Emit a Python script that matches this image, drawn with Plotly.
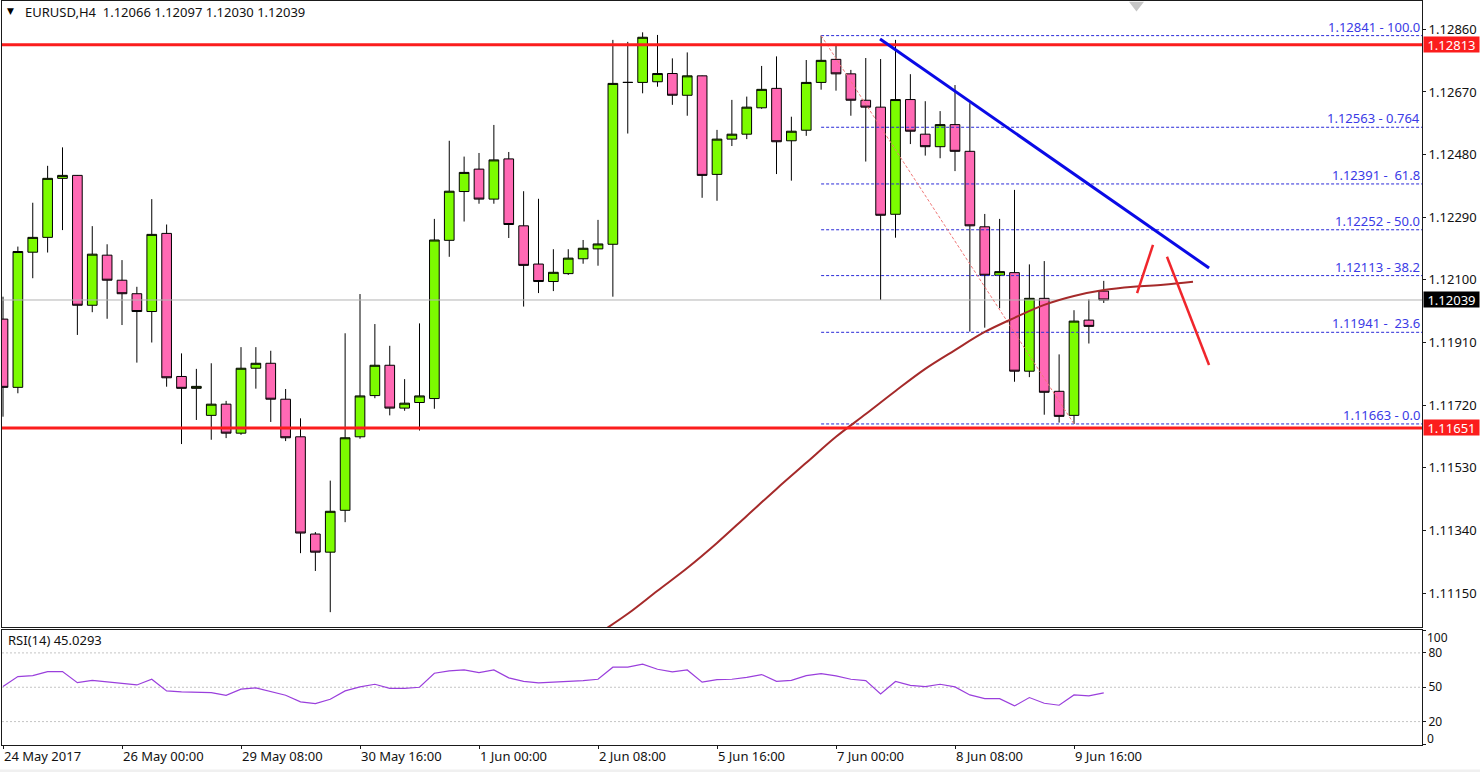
import plotly.graph_objects as go

W, H = 1480, 772
FONT = "Noto Sans"

tick_index = [0, 8, 16, 24, 32, 40, 48, 56, 64, 72]
tick_text = ["24 May 2017", "26 May 00:00", "29 May 08:00", "30 May 16:00", "1 Jun 00:00",
             "2 Jun 08:00", "5 Jun 16:00", "7 Jun 00:00", "8 Jun 08:00", "9 Jun 16:00"]
price_ticks = [1.12860, 1.12670, 1.12480, 1.12290, 1.12100, 1.11910, 1.11720, 1.11530, 1.11340, 1.11150]

opens = [1.11981,1.11774,1.12184,1.12229,1.12408,1.12417,1.12023,1.12175,1.12099,1.12058,
1.12004,1.12241,1.11807,1.11771,1.11689,1.11723,1.11635,1.11832,1.11847,1.11738,
1.11624,1.11329,1.11274,1.11401,1.11624,1.11749,1.11841,1.11711,1.11728,1.11740,
1.12220,1.12368,1.12436,1.12345,1.12467,1.12264,1.12148,1.12095,1.12119,1.12164,
1.12194,1.12208,1.12699,1.12699,1.12701,1.12726,1.12660,1.12719,1.12420,1.12527,
1.12542,1.12622,1.12681,1.12522,1.12554,1.12699,1.12769,1.12725,1.12645,1.12624,
1.12299,1.12647,1.12542,1.12504,1.12571,1.12490,1.12261,1.12114,1.12122,1.11823,
1.12044,1.11762,1.11689,1.11978,1.12066]
highs = [1.12049,1.12201,1.12334,1.12446,1.12502,1.12418,1.12263,1.12208,1.12160,1.12079,
1.12345,1.12268,1.11877,1.11830,1.11847,1.11733,1.11896,1.11896,1.11885,1.11769,
1.11680,1.11335,1.11491,1.11938,1.12057,1.11966,1.11900,1.11799,1.11968,1.12285,
1.12522,1.12474,1.12485,1.12570,1.12488,1.12369,1.12346,1.12193,1.12193,1.12221,
1.12282,1.12828,1.12822,1.12851,1.12843,1.12772,1.12790,1.12720,1.12555,1.12646,
1.12656,1.12749,1.12778,1.12595,1.12767,1.12841,1.12813,1.12737,1.12773,1.12770,
1.12828,1.12724,1.12642,1.12612,1.12691,1.12636,1.12300,1.12285,1.12373,1.12147,
1.12157,1.11874,1.12008,1.12041,1.12097]
lows = [1.11685,1.11756,1.12105,1.12183,1.12251,1.11933,1.12002,1.11982,1.11963,1.11849,
1.11910,1.11776,1.11602,1.11675,1.11615,1.11620,1.11630,1.11770,1.11669,1.11611,
1.11271,1.11217,1.11092,1.11365,1.11618,1.11741,1.11689,1.11703,1.11643,1.11709,
1.12170,1.12277,1.12331,1.12331,1.12227,1.12019,1.12060,1.12066,1.12115,1.12149,
1.12143,1.12049,1.12544,1.12666,1.12686,1.12631,1.12598,1.12349,1.12340,1.12506,
1.12527,1.12619,1.12421,1.12401,1.12537,1.12677,1.12674,1.12598,1.12459,1.12039,
1.12228,1.12512,1.12477,1.12469,1.12430,1.11943,1.11955,1.12014,1.11791,1.11805,
1.11691,1.11667,1.11663,1.11907,1.12030]
closes = [1.11774,1.12186,1.12229,1.12408,1.12417,1.12023,1.12178,1.12099,1.12058,1.12004,
1.12238,1.11803,1.11771,1.11777,1.11723,1.11635,1.11832,1.11847,1.11738,1.11621,
1.11332,1.11274,1.11398,1.11621,1.11748,1.11841,1.11711,1.11726,1.11748,1.12221,
1.12369,1.12426,1.12345,1.12464,1.12268,1.12144,1.12095,1.12123,1.12166,1.12196,
1.12209,1.12696,1.12699,1.12836,1.12726,1.12660,1.12719,1.12417,1.12527,1.12542,
1.12624,1.12678,1.12519,1.12551,1.12699,1.12766,1.12725,1.12645,1.12624,1.12296,
1.12647,1.12551,1.12504,1.12571,1.12490,1.12264,1.12114,1.12125,1.11823,1.12044,
1.11759,1.11686,1.11975,1.11959,1.12039]

ma_index = [40,42,44,46,48,50,52,54,56,58,60,62,64,66,68,70,72,74,76,78,80]
ma_values = [1.11026,1.11087,1.11157,1.11226,1.11302,1.11384,1.11466,1.11545,1.11624,1.11693,
             1.11763,1.11830,1.11887,1.11942,1.11985,1.12024,1.12051,1.12069,1.12079,1.12085,1.12094]

rsi = [50.6,59.3,60.2,63.7,63.7,54,56,54.7,53.8,52,57,46.8,45.9,45.9,45.3,43,48.3,49.4,45.9,43,
       37.2,35.7,39.5,46.8,50.3,52.6,49.1,49.1,50,62.2,64.3,65.1,62.8,65.1,58.2,55.2,53.8,54.4,55,55.8,
       57,67.5,67.5,70.1,65.7,63.4,65.1,54.4,56.7,57,58.7,61.1,55.2,56,60.2,61.9,59.9,57,55.8,44.2,
       55,51.7,50.6,52.6,50.3,43.3,40.1,40.1,33.7,41,36,34.3,43.3,42.4,45.03]
rsi_levels = [80, 50, 20]

fib_levels = [1.12841, 1.12563, 1.12391, 1.12252, 1.12113, 1.11941, 1.11663]
fib_labels = ["1.12841 - 100.0", "1.12563 - 0.764", "1.12391 -\u00a0\u00a061.8", "1.12252 - 50.0",
              "1.12113 - 38.2", "1.11941 -\u00a0\u00a023.6", "1.11663 - 0.0"]
fib_start = 55
fib_diag_x = [55, 72]
fib_diag_y = [1.12841, 1.11663]

red_levels = [1.12813, 1.11651]
last_price = 1.12039
trend_x = [58.96, 81.08]
trend_y = [1.12831, 1.12136]
stroke_up_x = [76.24, 77.31]
stroke_up_y = [1.12060, 1.12206]
stroke_down_x = [78.25, 81.08]
stroke_down_y = [1.12170, 1.11842]

X_RANGE = [-0.067, 95.395]
Y_RANGE = [1.11047, 1.12946]
idx = list(range(len(opens)))

fig = go.Figure()

fig.add_trace(go.Scatter(x=X_RANGE, y=[last_price]*2, mode="lines",
                         line=dict(color="#b4b4b4", width=1), xaxis="x", yaxis="y"))

fig.add_trace(go.Candlestick(
    x=idx, open=opens, high=highs, low=lows, close=closes, whiskerwidth=0,
    increasing=dict(fillcolor="#7CFC00", line=dict(color="#000000", width=1)),
    decreasing=dict(fillcolor="#FF69B4", line=dict(color="#000000", width=1)),
    xaxis="x", yaxis="y"))

for lv in fib_levels:
    fig.add_trace(go.Scatter(x=[fib_start, X_RANGE[1]], y=[lv, lv], mode="lines",
                             line=dict(color="#2a2ad8", width=1, dash="3px,2px"), xaxis="x", yaxis="y"))
fig.add_trace(go.Scatter(x=fib_diag_x, y=fib_diag_y, mode="lines",
                         line=dict(color="#f07878", width=1, dash="3px,2px"), xaxis="x", yaxis="y"))
fig.add_trace(go.Scatter(x=ma_index, y=ma_values, mode="lines", line_shape="spline",
                         line=dict(color="#a52a2a", width=2), xaxis="x", yaxis="y"))
for lv in red_levels:
    fig.add_trace(go.Scatter(x=X_RANGE, y=[lv, lv], mode="lines",
                             line=dict(color="#fb1d1d", width=3), xaxis="x", yaxis="y"))
fig.add_trace(go.Scatter(x=trend_x, y=trend_y, mode="lines",
                         line=dict(color="#0a0ae6", width=3), xaxis="x", yaxis="y"))
fig.add_trace(go.Scatter(x=stroke_up_x, y=stroke_up_y, mode="lines",
                         line=dict(color="#f0262c", width=2.5), xaxis="x", yaxis="y"))
fig.add_trace(go.Scatter(x=stroke_down_x, y=stroke_down_y, mode="lines",
                         line=dict(color="#f0262c", width=2.5), xaxis="x", yaxis="y"))
fig.add_trace(go.Scatter(x=[76.2], y=[1.12934], mode="markers",
                         marker=dict(symbol="triangle-down", size=13, color="#c6c6c6"),
                         xaxis="x", yaxis="y"))

for lv in rsi_levels:
    fig.add_trace(go.Scatter(x=X_RANGE, y=[lv, lv], mode="lines",
                             line=dict(color="#c4c4c4", width=1, dash="2px,2px"), xaxis="x2", yaxis="y2"))
fig.add_trace(go.Scatter(x=idx, y=rsi, mode="lines",
                         line=dict(color="#9a3fdc", width=1.2), xaxis="x2", yaxis="y2"))


def px(v):
    return v / W


def py(v):
    return 1 - v / H


DOMAIN_X = [px(2), px(1422)]
axis_common = dict(showgrid=False, zeroline=False, showline=True, mirror=True,
                   linecolor="#1a1a1a", linewidth=1)

annotations = [
    dict(xref="paper", yref="paper", x=px(23), y=py(12.5), text="EURUSD,H4\u00a0\u00a01.12066 1.12097 1.12030 1.12039",
         showarrow=False, xanchor="left", yanchor="middle", font=dict(family=FONT, size=13, color="#111111")),
    dict(xref="paper", yref="paper", x=px(10.5), y=py(11), text="\u25bc",
         showarrow=False, xanchor="center", yanchor="middle", font=dict(family="DejaVu Sans", size=9, color="#000000")),
    dict(xref="paper", yref="paper", x=px(6), y=py(640), text="RSI(14) 45.0293",
         showarrow=False, xanchor="left", yanchor="middle", font=dict(family=FONT, size=13, color="#111111")),
    dict(xref="paper", yref="paper", x=px(1425), y=py(637), text="100",
         showarrow=False, xanchor="left", yanchor="middle", font=dict(family=FONT, size=12, color="#111111")),
    dict(xref="paper", yref="paper", x=px(1425), y=py(738.5), text="0",
         showarrow=False, xanchor="left", yanchor="middle", font=dict(family=FONT, size=12, color="#111111")),
]
for lv, lab in zip(fib_levels, fib_labels):
    annotations.append(dict(xref="paper", yref="y", x=px(1422), y=lv, yshift=9, text=lab, showarrow=False,
                            xanchor="right", yanchor="middle",
                            font=dict(family=FONT, size=13, color="#3a3ae6")))
for lv, bg in [(red_levels[0], "#fb1d1d"), (red_levels[1], "#fb1d1d"), (last_price, "#000000")]:
    annotations.append(dict(xref="paper", yref="y", x=px(1423), y=lv, text=f"{lv:.5f}", showarrow=False,
                            xanchor="left", yanchor="middle", bgcolor=bg, width=55, height=15,
                            borderpad=0, align="center",
                            font=dict(family=FONT, size=13, color="#ffffff")))

fig.update_layout(
    width=W, height=H, autosize=False,
    margin=dict(l=0, r=0, t=0, b=0),
    paper_bgcolor="#ffffff", plot_bgcolor="#ffffff",
    showlegend=False, hovermode=False,
    boxgap=0.35, boxgroupgap=0,
    xaxis=dict(domain=DOMAIN_X, range=X_RANGE, anchor="y", showticklabels=False, ticks="",
               rangeslider=dict(visible=False), **axis_common),
    yaxis=dict(domain=[py(627), py(1)], range=Y_RANGE, anchor="x", side="right",
               tickmode="array", tickvals=price_ticks, ticktext=[f"{v:.5f}" for v in price_ticks],
               ticks="outside", ticklen=3, tickcolor="#1a1a1a",
               tickfont=dict(family=FONT, size=13, color="#111111"), **axis_common),
    xaxis2=dict(domain=DOMAIN_X, range=X_RANGE, anchor="y2",
                tickmode="array", tickvals=tick_index, ticktext=tick_text,
                ticks="outside", ticklen=3, tickcolor="#1a1a1a", ticklabelposition="outside right",
                tickfont=dict(family=FONT, size=13, color="#111111"), **axis_common),
    yaxis2=dict(domain=[py(744.5), py(630)], range=[0, 100], anchor="x2", side="right",
                tickmode="array", tickvals=[100, 80, 50, 20, 0], ticktext=["", "80", "50", "20", ""],
                ticks="outside", ticklen=3, tickcolor="#1a1a1a",
                tickfont=dict(family=FONT, size=12, color="#111111"), **axis_common),
    annotations=annotations,
    shapes=[dict(type="rect", xref="paper", yref="paper", x0=0, x1=1, y0=0, y1=py(769.5),
                 fillcolor="#f0f0f0", line=dict(width=0), layer="below")],
)

fig.write_html("out.html", post_script="document.body.style.margin='0';",
               config={"displayModeBar": False})
